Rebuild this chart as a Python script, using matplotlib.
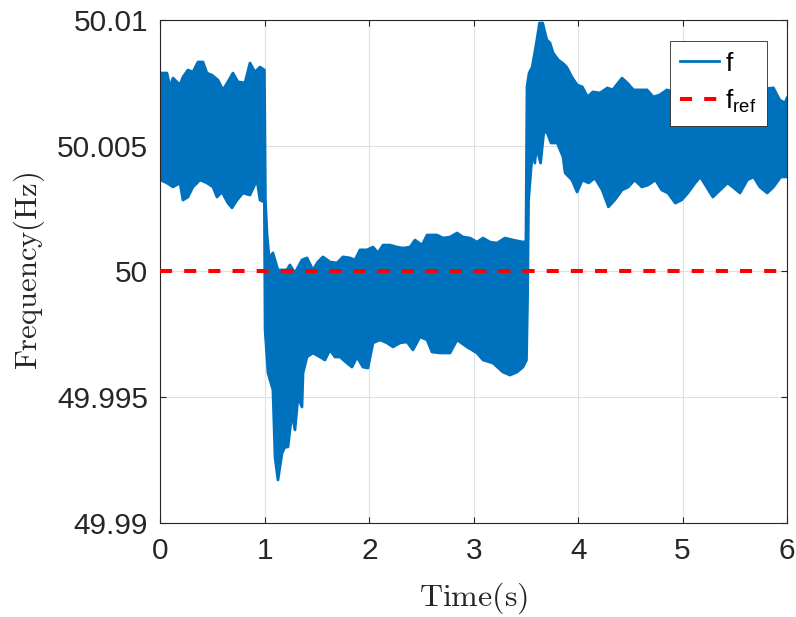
import numpy as np
import matplotlib
matplotlib.use("Agg")
import matplotlib.pyplot as plt

t_upper = [0.000, 0.005, 0.062, 0.091, 0.120, 0.187, 0.215, 0.263, 0.311, 0.359,
           0.407, 0.445, 0.493, 0.551, 0.598, 0.646, 0.694, 0.742, 0.809, 0.857,
           0.905, 0.953, 0.995,
           1.005, 1.020, 1.040, 1.049, 1.077, 1.125, 1.211, 1.240, 1.288, 1.355,
           1.403, 1.460, 1.508, 1.556, 1.623, 1.690, 1.748, 1.815, 1.863, 1.911,
           1.978, 2.035, 2.083, 2.131, 2.198, 2.265, 2.322, 2.390, 2.437, 2.505,
           2.553, 2.600, 2.648, 2.706, 2.773, 2.840, 2.897, 2.964, 3.031, 3.089,
           3.156, 3.223, 3.299, 3.376, 3.472, 3.500,
           3.510, 3.530, 3.560, 3.600, 3.630, 3.660, 3.700, 3.730, 3.760, 3.810,
           3.850, 3.890, 3.940, 3.990, 4.040, 4.090, 4.140, 4.210, 4.280, 4.330,
           4.420, 4.470, 4.530, 4.590, 4.660, 4.720, 4.780, 4.850, 4.950, 5.050,
           5.150, 5.250, 5.350, 5.450, 5.550, 5.650, 5.750, 5.870, 5.930, 5.980,
           6.000]
f_upper = [50.00722, 50.00789, 50.00789, 50.00734, 50.00769, 50.00742, 50.00773,
           50.00801, 50.00793, 50.00833, 50.00833, 50.00789, 50.00781, 50.00761,
           50.00722, 50.00754, 50.00789, 50.00754, 50.00750, 50.00829, 50.00793,
           50.00813, 50.00801,
           50.00284, 50.00150, 50.00058, 50.00058, 50.00074, 50.00006, 50.00006,
           50.00026, 49.99994, 50.00046, 50.00054, 50.00006, 50.00038, 50.00058,
           50.00038, 50.00034, 50.00058, 50.00054, 50.00046, 50.00086, 50.00086,
           50.00097, 50.00074, 50.00105, 50.00105, 50.00097, 50.00093, 50.00097,
           50.00125, 50.00105, 50.00145, 50.00145, 50.00145, 50.00133, 50.00137,
           50.00153, 50.00137, 50.00133, 50.00117, 50.00133, 50.00117, 50.00113,
           50.00133, 50.00125, 50.00117, 50.00120,
           50.00734, 50.00789, 50.00813, 50.00909, 50.00988, 50.00988, 50.00921,
           50.00909, 50.00869, 50.00841, 50.00829, 50.00813, 50.00773, 50.00742,
           50.00734, 50.00694, 50.00714, 50.00710, 50.00730, 50.00722, 50.00769,
           50.00750, 50.00722, 50.00722, 50.00722, 50.00694, 50.00702, 50.00722,
           50.00710, 50.00730, 50.00702, 50.00720, 50.00705, 50.00725, 50.00700,
           50.00715, 50.00725, 50.00730, 50.00682, 50.00670, 50.00690]

t_lower = [0.000, 0.062, 0.120, 0.187, 0.215, 0.263, 0.311, 0.378, 0.445, 0.503,
           0.541, 0.589, 0.646, 0.685, 0.733, 0.790, 0.857, 0.924, 0.953, 0.995,
           1.002, 1.030, 1.077, 1.097, 1.125, 1.164, 1.192, 1.221, 1.259, 1.288,
           1.317, 1.355, 1.365, 1.403, 1.460, 1.528, 1.575, 1.623, 1.671, 1.719,
           1.786, 1.834, 1.882, 1.939, 1.987, 2.035, 2.102, 2.169, 2.227, 2.294,
           2.361, 2.418, 2.485, 2.553, 2.600, 2.677, 2.773, 2.840, 2.935, 3.031,
           3.089, 3.184, 3.280, 3.347, 3.414, 3.472, 3.505,
           3.515, 3.525, 3.550, 3.570, 3.585, 3.600, 3.640, 3.670, 3.700, 3.740,
           3.800, 3.855, 3.875, 3.940, 3.990, 4.040, 4.100, 4.160, 4.230, 4.290,
           4.350, 4.420, 4.480, 4.540, 4.610, 4.670, 4.740, 4.800, 4.860, 4.930,
           4.990, 5.050, 5.120, 5.170, 5.230, 5.290, 5.360, 5.430, 5.480, 5.550,
           5.620, 5.680, 5.740, 5.810, 5.870, 5.940, 6.000]
f_lower = [50.00364, 50.00352, 50.00336, 50.00352, 50.00284, 50.00296, 50.00336,
           50.00364, 50.00352, 50.00336, 50.00296, 50.00316, 50.00272, 50.00253,
           50.00284, 50.00312, 50.00304, 50.00364, 50.00284, 50.00276,
           49.99767, 49.99596, 49.99529, 49.99262, 49.99171, 49.99278, 49.99302,
           49.99302, 49.99437, 49.99370, 49.99501, 49.99461, 49.99596, 49.99660,
           49.99676, 49.99660, 49.99648, 49.99688, 49.99660, 49.99660, 49.99636,
           49.99620, 49.99660, 49.99620, 49.99616, 49.99716, 49.99728, 49.99716,
           49.99700, 49.99716, 49.99720, 49.99688, 49.99740, 49.99728, 49.99680,
           49.99676, 49.99676, 49.99728, 49.99700, 49.99676, 49.99648, 49.99636,
           49.99600, 49.99588, 49.99600, 49.99620, 49.99648,
           49.99887, 50.00284, 50.00415, 50.00495, 50.00431, 50.00495, 50.00431,
           50.00551, 50.00555, 50.00511, 50.00511, 50.00455, 50.00392, 50.00364,
           50.00316, 50.00364, 50.00352, 50.00372, 50.00324, 50.00257, 50.00284,
           50.00324, 50.00336, 50.00364, 50.00336, 50.00344, 50.00364, 50.00324,
           50.00312, 50.00272, 50.00284, 50.00312, 50.00352, 50.00376, 50.00336,
           50.00296, 50.00324, 50.00352, 50.00336, 50.00312, 50.00364, 50.00376,
           50.00336, 50.00312, 50.00336, 50.00376, 50.00376]

f_ref = 50.0

x_ticks = [0, 1, 2, 3, 4, 5, 6]
y_ticks = [49.99, 49.995, 50.0, 50.005, 50.01]
y_ticklabels = ['49.99', '49.995', '50', '50.005', '50.01']

blue = '#0072BD'
dark = '#262626'

plt.rcParams['font.family'] = ['Liberation Sans', 'DejaVu Sans']
plt.rcParams['mathtext.fontset'] = 'custom'
plt.rcParams['mathtext.rm'] = 'Liberation Sans'

fig = plt.figure(figsize=(7.96, 6.17), dpi=100)
ax = fig.add_axes([0.2016, 0.1524, 0.7871, 0.8152])

# dense oscillation drawn as the band between its envelopes
poly_t = np.concatenate([t_upper, t_lower[::-1]])
poly_f = np.concatenate([f_upper, f_lower[::-1]])
ax.fill(poly_t, poly_f, color=blue, lw=0, zorder=2)
ax.plot(t_upper, f_upper, color=blue, lw=2, label='f', zorder=2,
        solid_joinstyle='round')
ax.plot(t_lower, f_lower, color=blue, lw=2, zorder=2, solid_joinstyle='round')
ax.axhline(f_ref, color='red', lw=2.9, linestyle=(0, (3, 3)),
           label='f$_{\\mathrm{ref}}$', zorder=3)

ax.set_xlim(0, 6)
ax.set_ylim(49.99, 50.01)
ax.set_xticks(x_ticks)
ax.set_yticks(y_ticks)
ax.set_yticklabels(y_ticklabels)
ax.grid(True, color='#e0e0e0', lw=0.8)
ax.set_axisbelow(True)

ax.tick_params(direction='in', top=True, right=True, length=4.5, width=0.8,
               colors=dark, labelsize=21.5)
ax.tick_params(axis='y', pad=9)
ax.tick_params(axis='x', pad=10)
for s in ax.spines.values():
    s.set_color(dark)
    s.set_linewidth(0.8)

ax.set_xlabel('$\\mathrm{Time(s)}$', fontsize=23, math_fontfamily='cm',
              color=dark, labelpad=11)
ax.set_ylabel('$\\mathrm{Frequency(Hz)}$', fontsize=22, math_fontfamily='cm',
              color=dark, labelpad=7)

leg = ax.legend(loc='upper right', bbox_to_anchor=(0.968, 0.958), fontsize=19,
                frameon=True, fancybox=False, framealpha=1, edgecolor=dark,
                handlelength=1.45, handletextpad=0.25, borderpad=0.4,
                labelspacing=0.45, borderaxespad=0)
leg.get_frame().set_linewidth(0.6)

fig.savefig('out.png', dpi=100)
